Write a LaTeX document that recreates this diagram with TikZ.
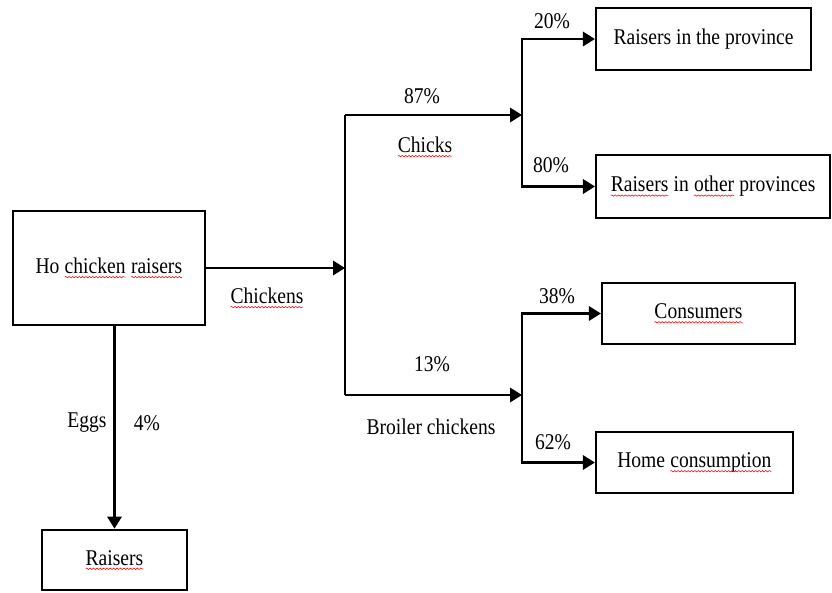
\documentclass[tikz,border=0pt]{standalone}
\usepackage{fontspec}
\setmainfont[FakeStretch=0.87]{Liberation Serif}
\usetikzlibrary{arrows.meta, positioning, decorations.pathmorphing}
% red spell-check wave under a word
\newcommand\spellwave[1]{\tikz[baseline=(sw.base)]{\node[draw=none, inner sep=0pt, outer sep=0pt, minimum width=0pt, minimum height=0pt] (sw) {#1};
  \draw[red, line width=0.4pt, decorate, decoration={snake, amplitude=0.5pt, segment length=2.4pt}] ([yshift=-2.6pt]sw.base west) -- ([yshift=-2.6pt]sw.base east);}}
\tikzset{
  flowbox/.style={draw, line width=1.4pt, inner sep=2pt},
  flow/.style={line width=1.5pt},
  flowarrow/.style={flow, -{Triangle[length=0.3cm, width=0.36cm]}},
  lbl/.style={inner sep=1pt},
}

\begin{document}
\begin{tikzpicture}[x=0.025cm, y=-0.025cm, font=\fontsize{16}{19}\selectfont]
    \useasboundingbox (0,0) rectangle (832,592);

    % Boxes
    \node[flowbox, minimum width=4.8cm, minimum height=2.85cm] (hcr) at (109, 268) {Ho \spellwave{chicken} \spellwave{raisers}};
    \node[flowbox, minimum width=3.62cm, minimum height=1.52cm] (rais) at (114.5, 560) {\spellwave{Raisers}};
    \node[flowbox, minimum width=5.38cm, minimum height=1.55cm] (prov) at (703.5, 39) {Raisers in the province};
    \node[flowbox, minimum width=5.85cm, minimum height=1.58cm] (other) at (713, 186.5) {\spellwave{Raisers} in \spellwave{other} provinces};
    \node[flowbox, minimum width=4.83cm, minimum height=1.53cm] (cons) at (698.5, 313.5) {\spellwave{Consumers}};
    \node[flowbox, minimum width=4.93cm, minimum height=1.53cm] (home) at (694.5, 462.5) {Home \spellwave{consumption}};

    % Junctions
    \coordinate (split) at (345, 268);
    \coordinate (c87) at (345, 115);
    \coordinate (c13) at (345, 395);
    \coordinate (up) at (522, 115);
    \coordinate (low) at (522, 395);

    % Connectors
    \draw[flowarrow] (hcr) -- (split);
    \draw[flow] (c87) -- (c13);
    \draw[flowarrow] (c87) -- (up);
    \draw[flowarrow] (c13) -- (low);
    \draw[flowarrow] (up) |- (prov.west);
    \draw[flowarrow] (up) |- (other.west);
    \draw[flowarrow] (low) |- (cons.west);
    \draw[flowarrow] (low) |- (home.west);
    \draw[flowarrow] (hcr.south -| rais.north) -- (rais.north);

    % Labels
    \node[lbl] (lchk) at (267, 298) {\spellwave{Chickens}};
    \node[lbl] (l87) at (422, 96) {87\%};
    \node[lbl] (lchicks) at (425, 147) {\spellwave{Chicks}};
    \node[lbl] (l13) at (432, 364) {13\%};
    \node[lbl] (lbroil) at (431, 427) {Broiler chickens};
    \node[lbl] (l20) at (552, 21) {20\%};
    \node[lbl] (l80) at (551, 165) {80\%};
    \node[lbl] (l38) at (557, 296) {38\%};
    \node[lbl] (l62) at (553, 442) {62\%};
    \node[lbl] (leggs) at (87, 423) {Eggs};
    \node[lbl] (l4) at (147, 423) {4\%};
  \end{tikzpicture}
\end{document}
